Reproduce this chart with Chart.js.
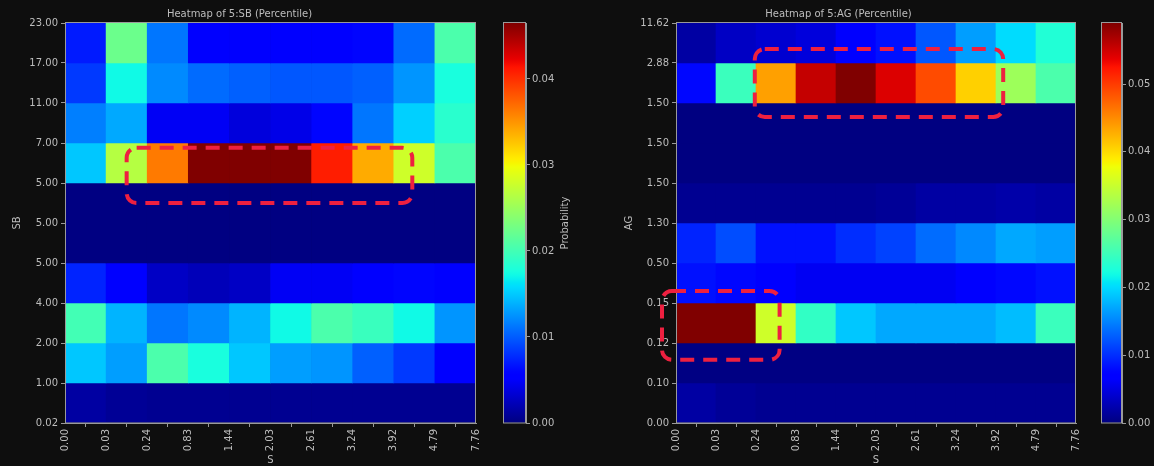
<!DOCTYPE html>
<html><head><meta charset="utf-8">
<script src="https://cdn.jsdelivr.net/npm/chart.js@4/dist/chart.umd.min.js"></script>
<style>
html,body{margin:0;padding:0;background:#0e0e0e;width:1154px;height:466px;overflow:hidden}
.box{position:absolute;top:0;height:466px}
</style></head><body>
<div class="box" style="left:0;width:490px"><canvas id="h1"></canvas></div>
<div class="box" style="left:490px;width:110px"><canvas id="c1"></canvas></div>
<div class="box" style="left:600px;width:490px"><canvas id="h2"></canvas></div>
<div class="box" style="left:1090px;width:64px"><canvas id="c2"></canvas></div>
<script>
// ---------- data ----------
const xTickLabels = ['0.00','0.03','0.24','0.83','1.44','2.03','2.61','3.24','3.92','4.79','7.76'];
// y tick labels, bottom -> top
const sbYTickLabels = ['0.02','1.00','2.00','4.00','5.00','5.00','5.00','7.00','11.00','17.00','23.00'];
const agYTickLabels = ['0.00','0.10','0.12','0.15','0.50','1.30','1.50','1.50','1.50','2.88','11.62'];
// cell probabilities, rows top -> bottom, 10 columns each
const sbValues = [
  [0.0070,0.0223,0.0112,0.0051,0.0051,0.0051,0.0051,0.0060,0.0107,0.0205],
  [0.0084,0.0172,0.0121,0.0107,0.0102,0.0098,0.0098,0.0102,0.0126,0.0177],
  [0.0116,0.0135,0.0047,0.0047,0.0037,0.0042,0.0060,0.0112,0.0153,0.0186],
  [0.0149,0.0265,0.0363,0.0480,0.0475,0.0470,0.0409,0.0339,0.0279,0.0205],
  [0.0001,0.0001,0.0001,0.0001,0.0001,0.0001,0.0001,0.0001,0.0001,0.0001],
  [0.0001,0.0001,0.0001,0.0001,0.0001,0.0001,0.0001,0.0001,0.0001,0.0001],
  [0.0074,0.0051,0.0028,0.0023,0.0028,0.0047,0.0047,0.0056,0.0060,0.0056],
  [0.0200,0.0140,0.0112,0.0121,0.0140,0.0172,0.0205,0.0195,0.0172,0.0126],
  [0.0149,0.0130,0.0205,0.0177,0.0149,0.0130,0.0126,0.0102,0.0084,0.0051],
  [0.0014,0.0009,0.0007,0.0007,0.0007,0.0007,0.0007,0.0007,0.0007,0.0007]
];
const agValues = [
  [0.0018,0.0035,0.0041,0.0047,0.0071,0.0083,0.0124,0.0165,0.0201,0.0230],
  [0.0077,0.0248,0.0437,0.0555,0.0600,0.0543,0.0490,0.0407,0.0319,0.0260],
  [0.0001,0.0001,0.0001,0.0001,0.0001,0.0001,0.0001,0.0001,0.0001,0.0001],
  [0.0001,0.0001,0.0001,0.0001,0.0001,0.0001,0.0001,0.0001,0.0001,0.0001],
  [0.0009,0.0009,0.0009,0.0009,0.0009,0.0012,0.0018,0.0018,0.0021,0.0018],
  [0.0094,0.0118,0.0083,0.0083,0.0100,0.0112,0.0136,0.0153,0.0171,0.0165],
  [0.0083,0.0077,0.0065,0.0059,0.0059,0.0059,0.0059,0.0065,0.0077,0.0083],
  [0.0620,0.0610,0.0354,0.0242,0.0189,0.0171,0.0171,0.0171,0.0183,0.0248],
  [0.0002,0.0002,0.0002,0.0002,0.0002,0.0002,0.0002,0.0002,0.0002,0.0002],
  [0.0018,0.0012,0.0009,0.0009,0.0009,0.0009,0.0009,0.0009,0.0009,0.0009]
];
const sbRange = [0, 0.0465];
const agRange = [0, 0.059];
const colorbarStep = 0.01;

// ---------- style ----------
const TEXT = '#bdbdbd';
const SPINE = '#9a9a9a';
const FONT = {family: 'DejaVu Sans', size: 10};
Chart.defaults.color = TEXT;
Chart.defaults.font = FONT;

const JET = {
  r: [[0,0],[0.35,0],[0.66,1],[0.89,1],[1,0.5]],
  g: [[0,0],[0.125,0],[0.375,1],[0.64,1],[0.91,0],[1,0]],
  b: [[0,0.5],[0.11,1],[0.34,1],[0.65,0],[1,0]]
};
function seg(pts, t){
  for (let i = 1; i < pts.length; i++) {
    if (t <= pts[i][0]) {
      const [x0,y0] = pts[i-1], [x1,y1] = pts[i];
      return y0 + (y1 - y0) * (t - x0) / (x1 - x0);
    }
  }
  return pts[pts.length-1][1];
}
function jet(t){
  t = Math.max(0, Math.min(1, t));
  return `rgb(${Math.round(seg(JET.r,t)*255)},${Math.round(seg(JET.g,t)*255)},${Math.round(seg(JET.b,t)*255)})`;
}

const frame = {
  id: 'frame',
  afterDraw(chart){
    const a = chart.chartArea, c = chart.ctx;
    c.save(); c.strokeStyle = SPINE; c.lineWidth = 1;
    c.strokeRect(Math.round(a.left)+0.5, Math.round(a.top)-0.5, Math.round(a.right-a.left)-1, Math.round(a.bottom-a.top)+0.5);
    c.restore();
  }
};

const dashedBoxes = {
  id: 'dashedBoxes',
  afterDraw(chart, args, opts){
    if (!opts.boxes) return;
    const c = chart.ctx, xs = chart.scales.x, ys = chart.scales.y;
    c.save();
    c.strokeStyle = opts.color; c.lineWidth = opts.lineWidth; c.setLineDash(opts.dash);
    for (const b of opts.boxes) {
      const x0 = xs.getPixelForValue(b.x[0]), x1 = xs.getPixelForValue(b.x[1]);
      const y0 = ys.getPixelForValue(b.y[1]), y1 = ys.getPixelForValue(b.y[0]);
      c.beginPath(); c.roundRect(x0, y0, x1 - x0, y1 - y0, opts.radius); c.stroke();
    }
    c.restore();
  }
};

const cbLabel = {
  id: 'cbLabel',
  afterDraw(chart, args, opts){
    if (!opts.text) return;
    const c = chart.ctx, a = chart.chartArea;
    c.save(); c.fillStyle = TEXT; c.font = '10px "DejaVu Sans"';
    c.translate(a.right + opts.offset, (a.top + a.bottom) / 2);
    c.rotate(-Math.PI/2); c.textAlign = 'center'; c.textBaseline = 'middle';
    c.fillText(opts.text, 0, 0);
    c.restore();
  }
};

function heatmap(id, title, values, range, yLabels, yTitle, yWidth, rightPad, titlePad, boxes){
  const n = values.length;
  const datasets = values.map((row, i) => {
    const r = n - 1 - i;
    return {
      data: row.map((v, c) => ({x: c + 0.5, y: [r, r + 1]})),
      backgroundColor: row.map(v => jet((v - range[0]) / (range[1] - range[0]))),
      borderWidth: 0, grouped: false, barPercentage: 1, categoryPercentage: 1
    };
  });
  new Chart(document.getElementById(id), {
    type: 'bar',
    data: {datasets},
    options: {
      responsive: true, maintainAspectRatio: false, animation: false,
      layout: {padding: {left: 0, right: rightPad, top: 0, bottom: 0}},
      plugins: {
        legend: {display: false}, tooltip: {enabled: false},
        title: {display: true, text: title, color: TEXT, font: {family: 'DejaVu Sans', size: 10, weight: 'normal'}, padding: {top: 8, bottom: 3}},
        dashedBoxes: {boxes, color: 'rgb(238,32,64)', lineWidth: 4, dash: [14, 9], radius: 10}
      },
      scales: {
        x: {
          type: 'linear', min: 0, max: xTickLabels.length - 1, offset: false,
          ticks: {stepSize: 1, autoSkip: false, minRotation: 90, maxRotation: 90, padding: 2, color: TEXT,
                  callback: v => xTickLabels[v]},
          grid: {drawOnChartArea: false, drawTicks: true, tickLength: 4, color: SPINE},
          border: {display: true, color: SPINE},
          title: {display: true, text: 'S', color: TEXT, padding: {top: 0, bottom: 0}},
          afterFit: s => { s.height = 43; }
        },
        y: {
          type: 'linear', min: 0, max: yLabels.length - 1,
          ticks: {stepSize: 1, autoSkip: false, padding: 3, color: TEXT, callback: v => yLabels[v]},
          grid: {drawOnChartArea: false, drawTicks: true, tickLength: 4, color: SPINE},
          border: {display: true, color: SPINE},
          title: {display: true, text: yTitle, color: TEXT, padding: titlePad},
          afterFit: s => { s.width = yWidth; }
        }
      }
    },
    plugins: [frame, dashedBoxes]
  });
}

function colorbar(id, range, leftPad, axisWidth, label){
  new Chart(document.getElementById(id), {
    type: 'bar',
    data: {labels: [''], datasets: [{
      data: [[range[0], range[1]]],
      backgroundColor: (ctx) => {
        const a = ctx.chart.chartArea;
        if (!a) return 'transparent';
        const g = ctx.chart.ctx.createLinearGradient(0, a.bottom, 0, a.top);
        for (let i = 0; i <= 100; i++) g.addColorStop(i / 100, jet(i / 100));
        return g;
      },
      borderWidth: 0, barPercentage: 1, categoryPercentage: 1
    }]},
    options: {
      responsive: true, maintainAspectRatio: false, animation: false,
      layout: {padding: {left: leftPad, right: 0, top: 23, bottom: 43}},
      plugins: {legend: {display: false}, tooltip: {enabled: false}, cbLabel: {text: label, offset: 39}},
      scales: {
        x: {display: false},
        y: {
          position: 'right', min: range[0], max: range[1],
          ticks: {stepSize: colorbarStep, includeBounds: false, padding: 2, color: TEXT, callback: v => v.toFixed(2)},
          grid: {drawOnChartArea: false, drawTicks: true, tickLength: 4, color: SPINE},
          border: {display: true, color: SPINE},
          afterFit: s => { s.width = axisWidth; }
        }
      }
    },
    plugins: [frame, cbLabel]
  });
}

heatmap('h1', 'Heatmap of 5:SB (Percentile)', sbValues, sbRange, sbYTickLabels, 'SB', 65, 11, {top: 11, bottom: 0},
  [{x: [1.5, 8.45], y: [5.5, 6.88]}]);
heatmap('h2', 'Heatmap of 5:AG (Percentile)', agValues, agRange, agYTickLabels, 'AG', 76, 13, {top: 23, bottom: 0},
  [{x: [1.97, 8.18], y: [7.65, 9.35]}, {x: [-0.35, 2.59], y: [1.58, 3.3]}]);
colorbar('c1', sbRange, 13, 74, 'Probability');
colorbar('c2', agRange, 11, 32, '');
</script>
</body></html>
